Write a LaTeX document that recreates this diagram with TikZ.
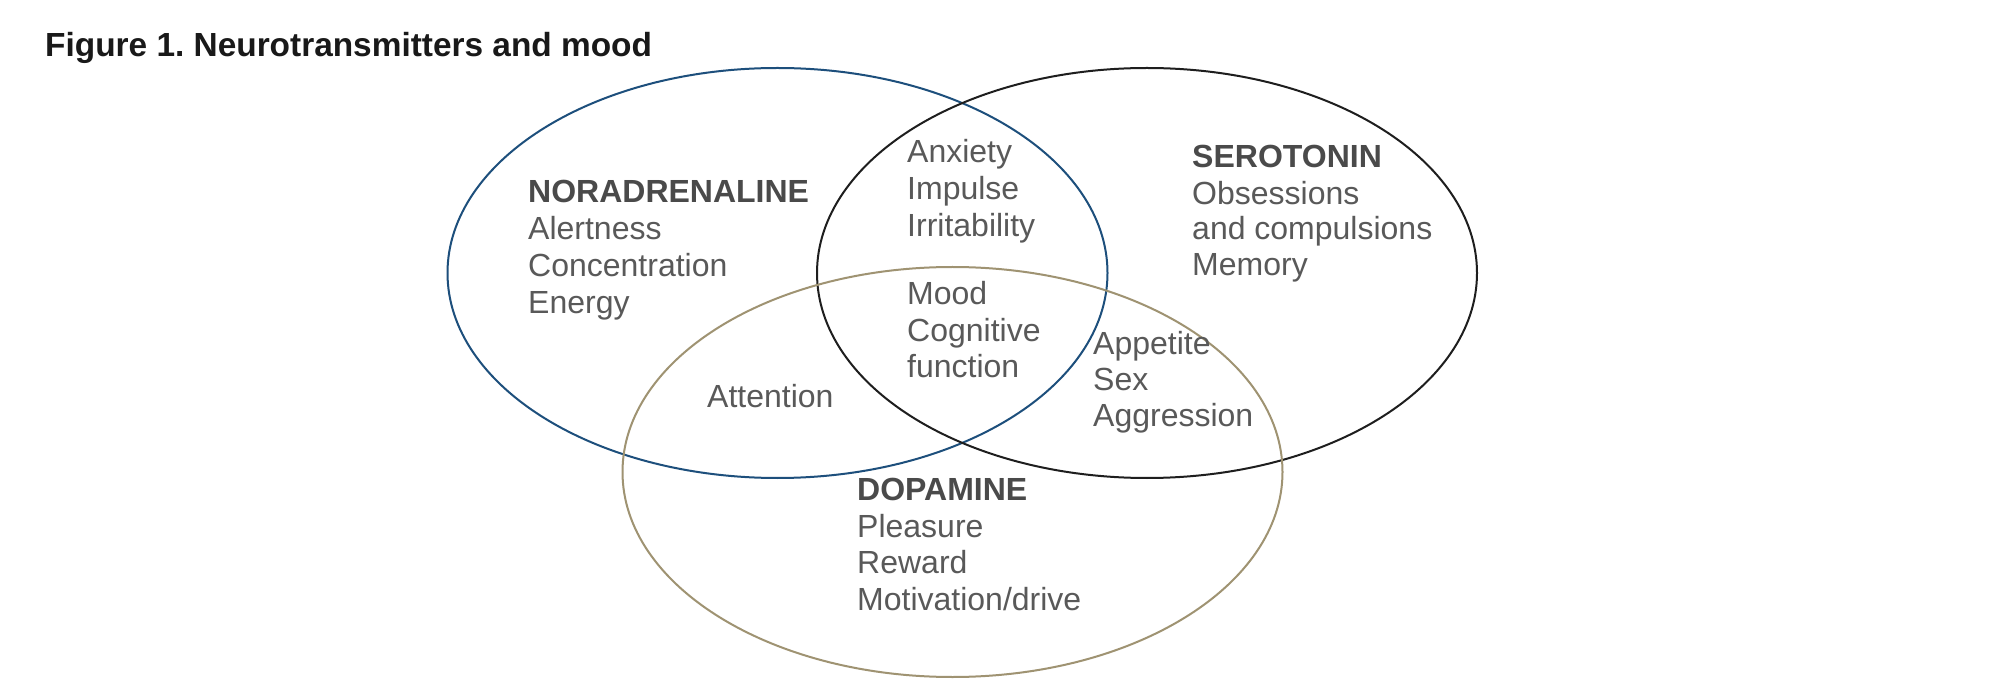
\documentclass[tikz,border=0pt]{standalone}
\usepackage{fontspec}
\setmainfont{Liberation Sans}
\definecolor{nablue}{HTML}{1D4F7C}
\definecolor{serblack}{HTML}{1E1E1E}
\definecolor{doptan}{HTML}{9F9372}
\definecolor{txtgray}{HTML}{595959}
\definecolor{hdgray}{HTML}{4A4A4A}
\frenchspacing
\begin{document}
\begin{tikzpicture}[x=1pt,y=-1pt,
  lbl/.style={anchor=base west, inner sep=0pt, font=\fontsize{32}{36}\selectfont, text=txtgray},
  hd/.style={anchor=base west, inner sep=0pt, font=\fontsize{32}{36}\selectfont\bfseries, text=hdgray},
  ttl/.style={anchor=base west, inner sep=0pt, font=\fontsize{33.4}{38}\selectfont\bfseries, text=black!90},
  ring/.style={line width=2pt}]
\useasboundingbox (0,0) rectangle (1992,700);
\fill[white] (0,0) rectangle (1992,700);
% centres
\coordinate (cNA) at (777.5,273);
\coordinate (cSE) at (1147,273);
\coordinate (cDO) at (952.5,472);
% rings
\draw[ring, nablue] (cNA) ellipse [x radius=330pt, y radius=205pt];
\draw[ring, serblack] (cSE) ellipse [x radius=330pt, y radius=205pt];
\draw[ring, doptan] (cDO) ellipse [x radius=330pt, y radius=205pt];
% title
\node[ttl] (title) at (45,57) {Figure 1. Neurotransmitters and mood};
% noradrenaline
\node[hd] (naH) at (528,203) {NORADRENALINE};
\node[lbl] (na1) at (528,240) {Alertness};
\node[lbl] (na2) at (528,277) {Concentration};
\node[lbl] (na3) at (528,314) {Energy};
% noradrenaline & serotonin
\node[lbl] (ns1) at (907,163) {Anxiety};
\node[lbl] (ns2) at (907,200) {Impulse};
\node[lbl] (ns3) at (907,237) {Irritability};
% serotonin
\node[hd] (seH) at (1192,168) {SEROTONIN};
\node[lbl] (se1) at (1192,205) {Obsessions};
\node[lbl] (se2) at (1192,240) {and compulsions};
\node[lbl] (se3) at (1192,276) {Memory};
% all three
\node[lbl] (al1) at (907,305) {Mood};
\node[lbl] (al2) at (907,342) {Cognitive};
\node[lbl] (al3) at (907,378) {function};
% serotonin & dopamine
\node[lbl] (sd1) at (1093,355) {Appetite};
\node[lbl] (sd2) at (1093,391) {Sex};
\node[lbl] (sd3) at (1093,427) {Aggression};
% noradrenaline & dopamine
\node[lbl] (nd1) at (707,408) {Attention};
% dopamine
\node[hd] (doH) at (857,500) {DOPAMINE};
\node[lbl] (do1) at (857,537) {Pleasure};
\node[lbl] (do2) at (857,573) {Reward};
\node[lbl] (do3) at (857,610) {Motivation/drive};
\end{tikzpicture}
\end{document}
